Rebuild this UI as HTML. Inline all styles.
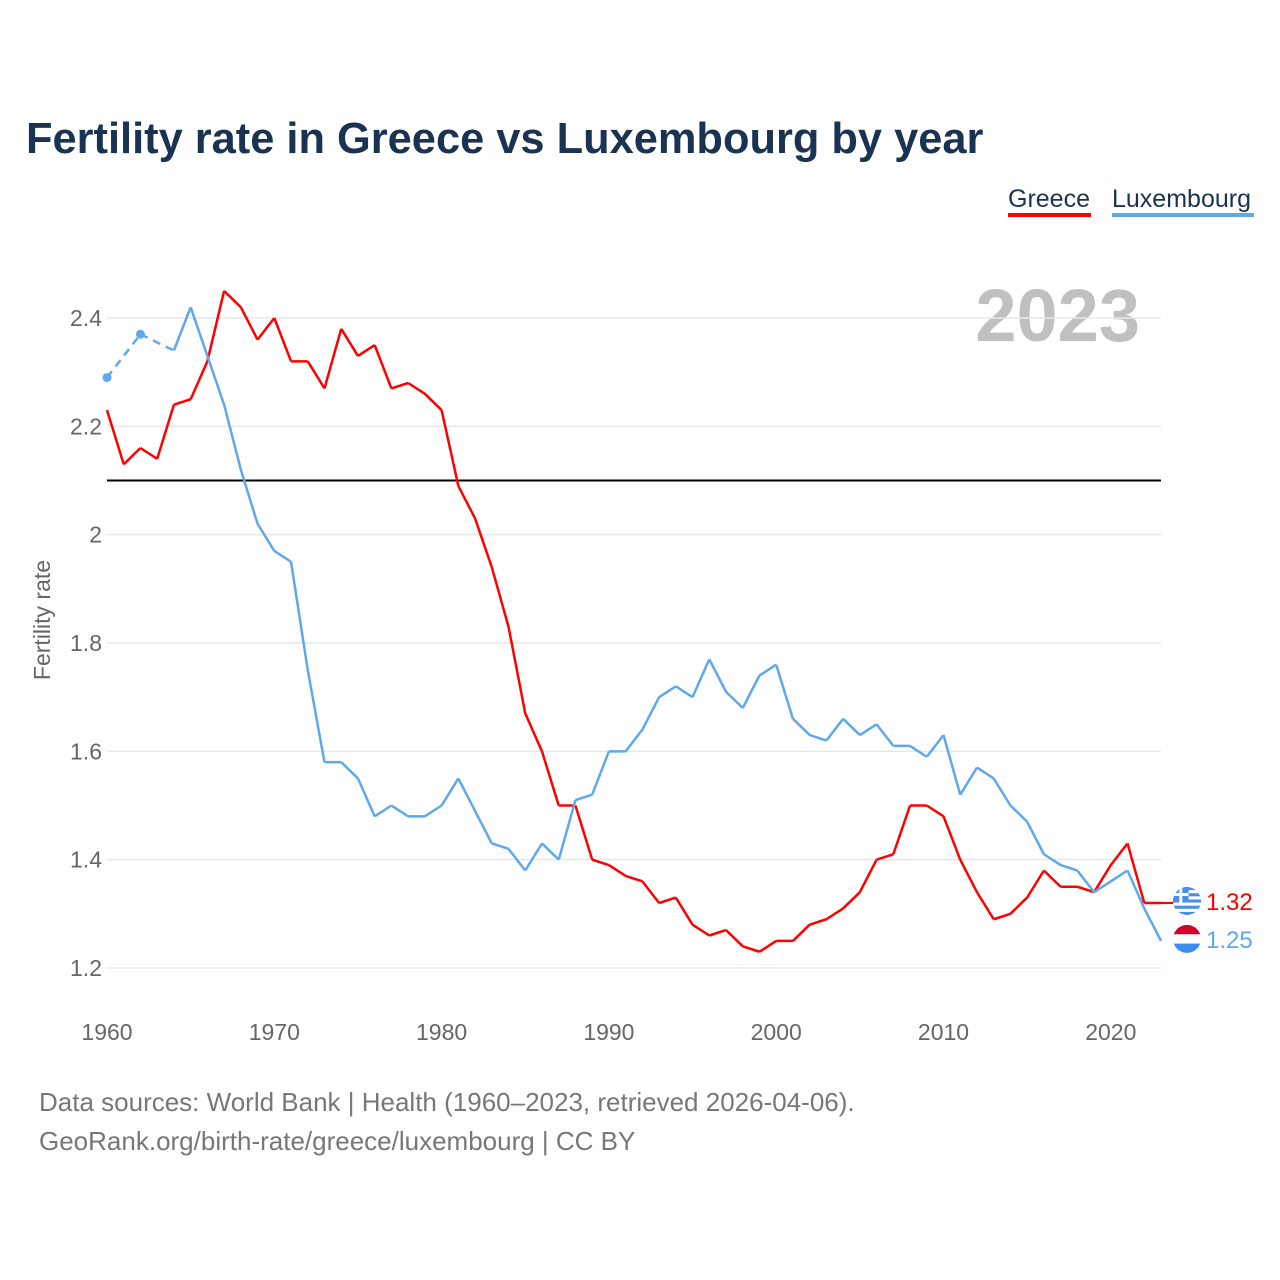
<!DOCTYPE html>
<html><head><meta charset="utf-8"><style>
body{margin:0;background:#fff;font-family:"Liberation Sans",sans-serif;}
#wrap{position:relative;width:1280px;height:1280px;overflow:hidden;}
</style></head><body>
<div id="wrap">
<svg id="chart" width="1280" height="1280"></svg>
</div>
<script>
const years=[];for(let y=1960;y<=2023;y++)years.push(y);
const greece=[2.23,2.13,2.16,2.14,2.24,2.25,2.32,2.45,2.42,2.36,2.40,2.32,2.32,2.27,2.38,2.33,2.35,2.27,2.28,2.26,2.23,2.09,2.03,1.94,1.83,1.67,1.60,1.50,1.50,1.40,1.39,1.37,1.36,1.32,1.33,1.28,1.26,1.27,1.24,1.23,1.25,1.25,1.28,1.29,1.31,1.34,1.40,1.41,1.50,1.50,1.48,1.40,1.34,1.29,1.30,1.33,1.38,1.35,1.35,1.34,1.39,1.43,1.32,1.32];
const luxembourg=[2.29,null,2.37,null,2.34,2.42,2.33,2.24,2.12,2.02,1.97,1.95,1.75,1.58,1.58,1.55,1.48,1.50,1.48,1.48,1.50,1.55,1.49,1.43,1.42,1.38,1.43,1.40,1.51,1.52,1.60,1.60,1.64,1.70,1.72,1.70,1.77,1.71,1.68,1.74,1.76,1.66,1.63,1.62,1.66,1.63,1.65,1.61,1.61,1.59,1.63,1.52,1.57,1.55,1.50,1.47,1.41,1.39,1.38,1.34,1.36,1.38,1.31,1.25];
const yTicks=[1.2,1.4,1.6,1.8,2,2.2,2.4];
const xTicks=[1960,1970,1980,1990,2000,2010,2020];
const replacement=2.1;
const NS="http://www.w3.org/2000/svg";
const svg=document.getElementById('chart');
const X=v=>107+(v-1960)*(1161-107)/63;
const Y=v=>968-(v-1.2)*(650/1.2);
function el(t,a,txt){const e=document.createElementNS(NS,t);for(const k in a)e.setAttribute(k,a[k]);if(txt!==undefined)e.textContent=txt;svg.appendChild(e);return e;}
let e;
e=el('text',{x:26,y:153,'font-size':43.4,'font-weight':'bold',fill:'#1b3353'},'Fertility rate in Greece vs Luxembourg by year');


e=el('text',{x:1008,y:207,'font-size':25,fill:'#1b3353'},'Greece');


e=el('rect',{x:1008,y:213,width:83,height:4,fill:'#ff0000'});


e=el('text',{x:1112,y:207,'font-size':25,fill:'#1b3353'},'Luxembourg');


e=el('rect',{x:1112,y:213,width:142,height:4,fill:'#5fa8ec'});


e=el('text',{x:1140,y:341,'font-size':74,'font-weight':'bold',fill:'#c0c0c0','text-anchor':'end'},'2023');


yTicks.forEach(t=>{
 e=el('line',{x1:107,x2:1161,y1:Y(t),y2:Y(t),stroke:'#e8e8e8','stroke-width':1.5});
 
 
 e=el('text',{x:102,y:Y(t)+8,'font-size':23,fill:'#666','text-anchor':'end'},String(t));
 
 
});
xTicks.forEach(t=>{
 e=el('text',{x:X(t),y:1040,'font-size':23,fill:'#666','text-anchor':'middle'},String(t));
 
 
});
e=el('text',{x:0,y:0,'font-size':23,fill:'#666','text-anchor':'middle',transform:'translate(50,620) rotate(-90)'},'Fertility rate');


e=el('line',{x1:107,x2:1161,y1:Y(replacement),y2:Y(replacement),stroke:'#000','stroke-width':2});


function drawSeries(vals,color,name){
 let cur=[];
 vals.forEach((v,i)=>{if(v!==null)cur.push([X(years[i]),Y(v),i]);});
 let solid='',dashed='';
 for(let k=1;k<cur.length;k++){
  const a=cur[k-1],b=cur[k];
  const seg=`M${a[0]},${a[1]}L${b[0]},${b[1]}`;
  if(b[2]-a[2]===1)solid+=seg;else dashed+=seg;
 }
 if(dashed){e=el('path',{d:dashed,fill:'none',stroke:color,'stroke-width':2.5,'stroke-dasharray':'8,6'});
 
 }
 e=el('path',{d:solid,fill:'none',stroke:color,'stroke-width':2.5,'stroke-linejoin':'round'});
 
 
 vals.forEach((v,i)=>{
  if(v===null)return;
  const noPrev=i===0||vals[i-1]===null, noNext=i===vals.length-1||vals[i+1]===null;
  if(noPrev&&noNext){
   e=el('circle',{cx:X(years[i]),cy:Y(v),r:4.5,fill:color});
   
   
  }
 });
}
drawSeries(greece,'#ff0000','greece');
drawSeries(luxembourg,'#5fa8ec','luxembourg');
const gEnd=greece[greece.length-1],lEnd=luxembourg[luxembourg.length-1];
const gy=Y(gEnd)-2,ly=Y(lEnd)-2;
e=el('line',{x1:X(2023),x2:1175,y1:Y(gEnd),y2:Y(gEnd),stroke:'#ff0000','stroke-width':2});


const gf=el('g',{});
const cx=1187;
for(let s=0;s<9;s++){const r=document.createElementNS(NS,'rect');r.setAttribute('x',cx-14);r.setAttribute('y',gy-14+s*28/9);r.setAttribute('width',28);r.setAttribute('height',28/9+0.3);r.setAttribute('fill',s%2?'#fff':'#4b8de8');gf.appendChild(r);}
{const r=document.createElementNS(NS,'rect');r.setAttribute('x',cx-14);r.setAttribute('y',gy-14);r.setAttribute('width',15.5);r.setAttribute('height',15.5);r.setAttribute('fill','#4b8de8');gf.appendChild(r);
const c1=document.createElementNS(NS,'rect');c1.setAttribute('x',cx-14);c1.setAttribute('y',gy-8);c1.setAttribute('width',15.5);c1.setAttribute('height',3);c1.setAttribute('fill','#fff');gf.appendChild(c1);
const c2=document.createElementNS(NS,'rect');c2.setAttribute('x',cx-7.7);c2.setAttribute('y',gy-14);c2.setAttribute('width',3);c2.setAttribute('height',15.5);c2.setAttribute('fill','#fff');gf.appendChild(c2);}
const clipG=document.createElementNS(NS,'clipPath');clipG.id='cg';const cc=document.createElementNS(NS,'circle');cc.setAttribute('cx',cx);cc.setAttribute('cy',gy);cc.setAttribute('r',14);clipG.appendChild(cc);svg.appendChild(clipG);gf.setAttribute('clip-path','url(#cg)');
const lf=el('g',{});
['#d2042d','#ffffff','#3b8ef0'].forEach((c,s)=>{const r=document.createElementNS(NS,'rect');r.setAttribute('x',cx-14);r.setAttribute('y',ly-14+s*28/3);r.setAttribute('width',28);r.setAttribute('height',28/3+0.3);r.setAttribute('fill',c);lf.appendChild(r);});
const clipL=document.createElementNS(NS,'clipPath');clipL.id='cl';const cl=document.createElementNS(NS,'circle');cl.setAttribute('cx',cx);cl.setAttribute('cy',ly);cl.setAttribute('r',14);clipL.appendChild(cl);svg.appendChild(clipL);lf.setAttribute('clip-path','url(#cl)');
e=el('text',{x:1206,y:gy+9,'font-size':24,fill:'#ff0000'},gEnd.toFixed(2));


e=el('text',{x:1206,y:ly+9,'font-size':24,fill:'#5fa8ec'},lEnd.toFixed(2));


e=el('text',{x:39,y:1111,'font-size':26,fill:'#777'},'Data sources: World Bank | Health (1960–2023, retrieved 2026-04-06).');


e=el('text',{x:39,y:1150,'font-size':26,fill:'#777'},'GeoRank.org/birth-rate/greece/luxembourg | CC BY');


</script>
</body></html>
